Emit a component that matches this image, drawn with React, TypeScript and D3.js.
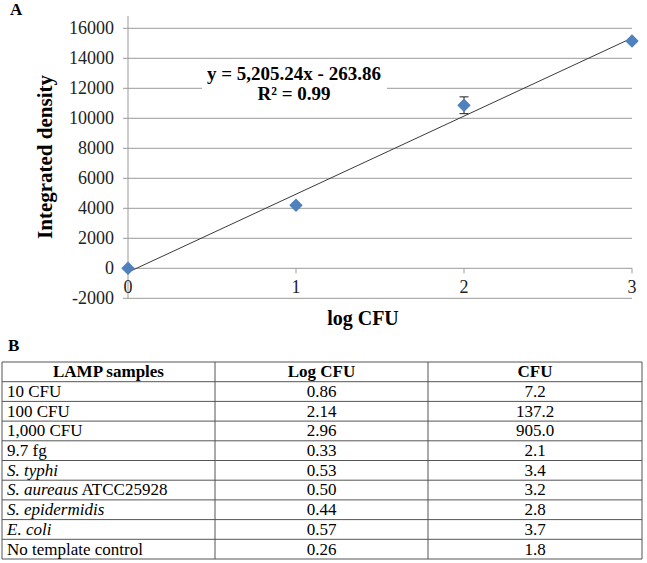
import * as d3 from 'd3';

// Panel A data
const logCfu = [0, 1, 2, 3];
const density = [0, 4200, 10870, 15150];
const densityErr = [0, 0, 560, 0];
const yTicks = [-2000, 0, 2000, 4000, 6000, 8000, 10000, 12000, 14000, 16000];
const xTicks = [0, 1, 2, 3];
const slope = 5205.24;
const intercept = -263.86;
const equationText = 'y = 5,205.24x - 263.86';
const r2Text = 'R² = 0.99';

// Panel B table
const tableHeaders = ['LAMP samples', 'Log CFU', 'CFU'];
const sampleItalic = ['', '', '', '', 'S. typhi', 'S. aureaus', 'S. epidermidis', 'E. coli', ''];
const sampleRoman = ['10 CFU', '100 CFU', '1,000 CFU', '9.7 fg', '', ' ATCC25928', '', '', 'No template control'];
const logCfuCol = ['0.86', '2.14', '2.96', '0.33', '0.53', '0.50', '0.44', '0.57', '0.26'];
const cfuCol = ['7.2', '137.2', '905.0', '2.1', '3.4', '3.2', '2.8', '3.7', '1.8'];

const W = 647;
const H = 563;
const serif = "'Liberation Serif', 'Times New Roman', 'DejaVu Serif', serif";
const markerColor = '#4f81bd';
const gridColor = '#9a9a9a';

function Chart() {
  const x = d3.scaleLinear().domain([0, 3]).range([128, 632]);
  const y = d3.scaleLinear().domain([-2000, 16000]).range([298.3, 28.3]);

  const trend = d3
    .line<number>()
    .x((d) => x(d))
    .y((d) => y(slope * d + intercept));

  const diamond = d3.symbol().type(d3.symbolDiamond2).size(115)();

  return (
    <g>
      <text x={10} y={15} fontSize={17} fontWeight="bold">
        A
      </text>

      {/* grid lines + left tick marks */}
      {yTicks.map((t) => (
        <g key={t}>
          <line
            x1={x(0) - 5}
            x2={x(3)}
            y1={y(t)}
            y2={y(t)}
            stroke={gridColor}
            strokeWidth={1}
          />
          <text x={114} y={y(t) + 6} textAnchor="end" fontSize={18} fill="#222">
            {t}
          </text>
        </g>
      ))}

      {/* vertical axis */}
      <line x1={x(0)} x2={x(0)} y1={16} y2={y(-2000)} stroke={gridColor} />

      {/* x ticks on the zero line */}
      {xTicks.map((t) => (
        <g key={t}>
          {t > 0 && (
            <line x1={x(t)} x2={x(t)} y1={y(0)} y2={y(0) + 5} stroke={gridColor} />
          )}
          <text x={x(t)} y={293} textAnchor="middle" fontSize={18} fill="#222">
            {t}
          </text>
        </g>
      ))}

      {/* equation label box */}
      <rect x={202} y={63} width={185} height={44} fill="#fff" />
      <text x={294} y={80} textAnchor="middle" fontSize={19} fontWeight="bold">
        {equationText}
      </text>
      <text x={294} y={100} textAnchor="middle" fontSize={19} fontWeight="bold">
        {r2Text}
      </text>

      {/* trend line */}
      <path d={trend([0, 3]) || ''} fill="none" stroke="#3a3a3a" strokeWidth={1} />

      {/* error bars */}
      {logCfu.map((v, i) =>
        densityErr[i] > 0 ? (
          <g key={`e${i}`} stroke="#222" strokeWidth={1}>
            <line
              x1={x(v)}
              x2={x(v)}
              y1={y(density[i] + densityErr[i])}
              y2={y(density[i] - densityErr[i])}
            />
            <line
              x1={x(v) - 4.5}
              x2={x(v) + 4.5}
              y1={y(density[i] + densityErr[i])}
              y2={y(density[i] + densityErr[i])}
            />
            <line
              x1={x(v) - 4.5}
              x2={x(v) + 4.5}
              y1={y(density[i] - densityErr[i])}
              y2={y(density[i] - densityErr[i])}
            />
          </g>
        ) : null
      )}

      {/* markers */}
      {logCfu.map((v, i) => (
        <path
          key={`m${i}`}
          d={diamond || ''}
          transform={`translate(${x(v)},${y(density[i])})`}
          fill={markerColor}
        />
      ))}

      {/* axis titles */}
      <text
        transform="translate(52,157) rotate(-90)"
        textAnchor="middle"
        fontSize={21}
        fontWeight="bold"
      >
        Integrated density
      </text>
      <text x={363} y={325} textAnchor="middle" fontSize={20} fontWeight="bold">
        log CFU
      </text>
    </g>
  );
}

function Table() {
  const colEdges = [2, 215, 428, 642];
  const nRows = sampleRoman.length + 1;
  const rowY = d3.scaleLinear().domain([0, nRows]).range([362, 559]);
  const borderColor = '#555';

  return (
    <g fontSize={17}>
      <text x={8} y={351} fontWeight="bold">
        B
      </text>

      {d3.range(nRows + 1).map((r) => (
        <line
          key={`h${r}`}
          x1={colEdges[0]}
          x2={colEdges[3]}
          y1={rowY(r)}
          y2={rowY(r)}
          stroke={borderColor}
        />
      ))}
      {colEdges.map((cx, i) => (
        <line key={`v${i}`} x1={cx} x2={cx} y1={rowY(0)} y2={rowY(nRows)} stroke={borderColor} />
      ))}

      {tableHeaders.map((h, i) => (
        <text
          key={h}
          x={(colEdges[i] + colEdges[i + 1]) / 2}
          y={rowY(1) - 4.5}
          textAnchor="middle"
          fontWeight="bold"
        >
          {h}
        </text>
      ))}

      {sampleRoman.map((s, r) => {
        const by = rowY(r + 2) - 4.5;
        return (
          <g key={`r${r}`}>
            <text x={7} y={by}>
              {sampleItalic[r] && <tspan fontStyle="italic">{sampleItalic[r]}</tspan>}
              {s && <tspan>{s}</tspan>}
            </text>
            <text x={(colEdges[1] + colEdges[2]) / 2} y={by} textAnchor="middle">
              {logCfuCol[r]}
            </text>
            <text x={(colEdges[2] + colEdges[3]) / 2} y={by} textAnchor="middle">
              {cfuCol[r]}
            </text>
          </g>
        );
      })}
    </g>
  );
}

export default function App() {
  return (
    <div style={{ position: 'absolute', left: 0, top: 0, background: '#fff' }}>
      <svg width={W} height={H} style={{ display: 'block', fontFamily: serif }}>
        <rect width={W} height={H} fill="#fff" />
        <Chart />
        <Table />
      </svg>
    </div>
  );
}
